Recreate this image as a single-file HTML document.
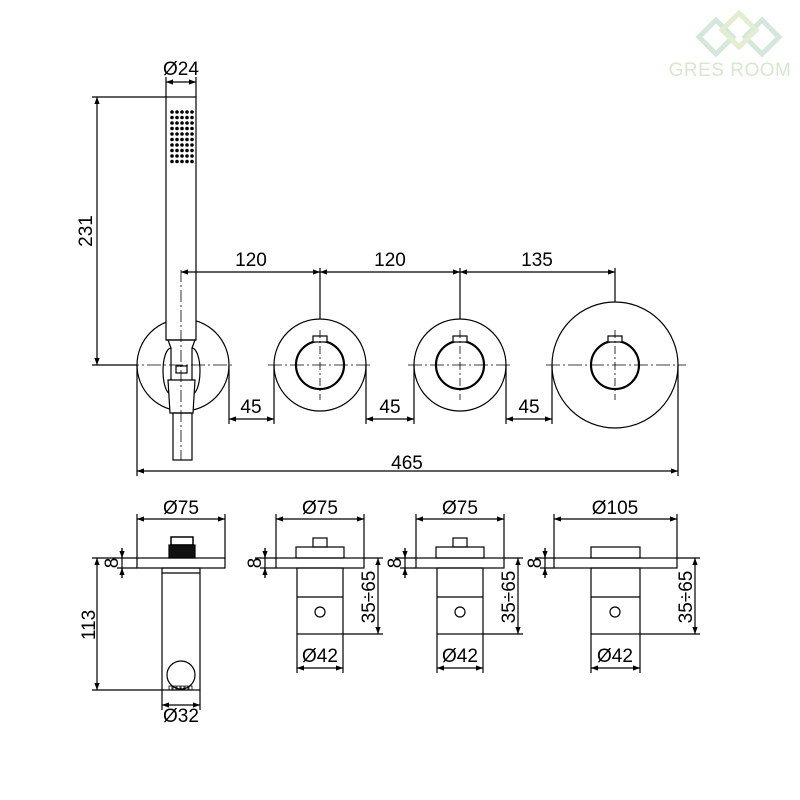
<!DOCTYPE html>
<html><head><meta charset="utf-8"><style>html,body{margin:0;padding:0;background:#fff}svg{display:block}</style></head>
<body>
<svg width="800" height="800" viewBox="0 0 800 800" xmlns="http://www.w3.org/2000/svg" font-family="Liberation Sans, DejaVu Sans, sans-serif" font-size="19" fill="none" stroke="#000">
<defs>
<marker id="a" viewBox="0 0 8 6" refX="8" refY="3" markerWidth="6" markerHeight="4.5" orient="auto-start-reverse"><path d="M0,0L8,3L0,6z" fill="#000" stroke="none"/></marker>
</defs>
<g stroke="#cfe6d6" stroke-width="5" opacity="0.9">
<path d="M716,20 L733,37 L716,54 L699,37 Z"/><path d="M762,20 L779,37 L762,54 L745,37 Z"/><path d="M739,13 L756,30 L739,47 L722,30 Z" stroke="#e0eccc"/>
</g>
<text x="730" y="76" font-size="19" fill="#d6e9cc" stroke="none" text-anchor="middle" letter-spacing="0.5">GRES ROOM</text>

<g stroke-width="1.2">
<path d="M125,365H235M268,365H372M408,365H512M546,365H686" stroke-dasharray="14,3,2,3" stroke-width="0.8"/>
<circle cx="183" cy="365" r="46"/>
<circle cx="320" cy="365" r="46"/>
<circle cx="460" cy="365" r="46"/>
<circle cx="615" cy="365" r="63"/>
<g stroke-width="2.2">
<circle cx="320" cy="365" r="24"/><circle cx="460" cy="365" r="24"/><circle cx="615" cy="365" r="24"/>
</g>
<rect x="313" y="336" width="14" height="6" fill="#fff"/><rect x="453" y="336" width="14" height="6" fill="#fff"/><rect x="608" y="336" width="14" height="6" fill="#fff"/>
<path d="M320,330V400M460,330V400M615,330V400" stroke-dasharray="8,3,2,3" stroke-width="0.8"/>
<!-- hand shower -->
<rect x="166" y="97" width="30" height="243" fill="#fff"/>
<g fill="#000" stroke="none">
<g id="row"><circle cx="172" cy="112" r="1.8"/><circle cx="177" cy="112" r="1.8"/><circle cx="182" cy="112" r="1.8"/><circle cx="187" cy="112" r="1.8"/><circle cx="192" cy="112" r="1.8"/></g>
<use href="#row" y="5.5"/><use href="#row" y="11"/><use href="#row" y="16.5"/><use href="#row" y="22"/><use href="#row" y="27.5"/><use href="#row" y="33"/><use href="#row" y="38.5"/><use href="#row" y="44"/><use href="#row" y="49.5"/>
</g>
<path d="M166,340H196"/>
<path d="M168,340L171,348V392M195,340L192,348V392"/>
<path d="M171,348A8,23 0 0 0 171,394M192,348A8,23 0 0 1 192,394"/>
<path d="M168,380H195L193,413H170Z" fill="#fff"/>
<rect x="176" y="366" width="11" height="7" fill="#fff"/>
<rect x="173" y="413" width="19" height="47"/>
<path d="M181,270V460" stroke-dasharray="12,3,2,3" stroke-width="0.8"/>
<path d="M166,97V77M196,97V77"/><path d="M166,82H196" marker-start="url(#a)" marker-end="url(#a)"/>
<path d="M166,97H92M137,365H92"/><path d="M97,97V365" marker-start="url(#a)" marker-end="url(#a)"/>
<path d="M181,272H320" marker-start="url(#a)" marker-end="url(#a)"/>
<path d="M320,272H460" marker-start="url(#a)" marker-end="url(#a)"/>
<path d="M460,272H615" marker-start="url(#a)" marker-end="url(#a)"/>
<path d="M320,268V319M460,268V319M615,268V302"/>
<path d="M229,365V424M274,365V424M366,365V424M414,365V424M506,365V424M552,365V424"/>
<path d="M229,419H274" marker-start="url(#a)" marker-end="url(#a)"/>
<path d="M366,419H414" marker-start="url(#a)" marker-end="url(#a)"/>
<path d="M506,419H552" marker-start="url(#a)" marker-end="url(#a)"/>
<path d="M137,365V476M678,365V476"/>
<path d="M137,471H678" marker-start="url(#a)" marker-end="url(#a)"/>

<rect x="137" y="558" width="88" height="10"/>
<rect x="162" y="568" width="38" height="122"/>
<path d="M162,573H200"/>
<rect x="171" y="537" width="22" height="8" fill="#fff" stroke-width="1.5"/>
<rect x="169" y="545" width="26" height="13" fill="#111"/>
<circle cx="181" cy="675" r="14"/>
<path d="M169,690v-4h3v4M173,690v-4h3v4M177,690v-4h3v4M181,690v-4h3v4M185,690v-4h3v4M189,690v-4h3v4" stroke-width="0.8"/>
<path d="M137,558V514M225,558V514"/><path d="M137,519H225" marker-start="url(#a)" marker-end="url(#a)"/>
<path d="M137,558H92M137,568H117M162,690H92"/>
<path d="M122,548V558" marker-end="url(#a)"/><path d="M122,578V568" marker-end="url(#a)"/><path d="M122,548V578"/>
<path d="M97,558V690" marker-start="url(#a)" marker-end="url(#a)"/>
<path d="M162,690V710M200,690V710"/><path d="M162,705H200" marker-start="url(#a)" marker-end="url(#a)"/>

<g id="v">
<rect x="276" y="558" width="88" height="10"/>
<rect x="296" y="547" width="48" height="11"/>
<rect x="313" y="538" width="14" height="9"/>
<rect x="297" y="568" width="46" height="66"/>
<path d="M297,597H343"/>
<circle cx="320" cy="612" r="5"/>
<path d="M276,558V514M364,558V514"/><path d="M276,519H364" marker-start="url(#a)" marker-end="url(#a)"/>
<path d="M276,558H255M276,568H260"/>
<path d="M265,548V558" marker-end="url(#a)"/><path d="M265,578V568" marker-end="url(#a)"/><path d="M265,548V578"/>
<path d="M364,558H383M343,634H383"/><path d="M378,558V634" marker-start="url(#a)" marker-end="url(#a)"/>
<path d="M297,634V673M343,634V673"/><path d="M297,668H343" marker-start="url(#a)" marker-end="url(#a)"/>
</g>
<use href="#v" x="140"/>
<rect x="554" y="558" width="123" height="10"/>
<rect x="591" y="547" width="49" height="11"/>
<rect x="591" y="568" width="49" height="66"/>
<path d="M591,597H640"/>
<circle cx="615" cy="612" r="5"/>
<path d="M554,558V514M677,558V514"/><path d="M554,519H677" marker-start="url(#a)" marker-end="url(#a)"/>
<path d="M554,558H535M554,568H540"/>
<path d="M545,548V558" marker-end="url(#a)"/><path d="M545,578V568" marker-end="url(#a)"/><path d="M545,548V578"/>
<path d="M677,558H700M640,634H700"/><path d="M695,558V634" marker-start="url(#a)" marker-end="url(#a)"/>
<path d="M591,634V673M640,634V673"/><path d="M591,668H640" marker-start="url(#a)" marker-end="url(#a)"/>
</g>

<g fill="#000" stroke="none" text-anchor="middle">
<text x="181" y="75">Ø24</text>
<text x="251" y="266">120</text>
<text x="390" y="266">120</text>
<text x="537" y="266">135</text>
<text x="251" y="413">45</text>
<text x="390" y="413">45</text>
<text x="529" y="413">45</text>
<text x="407" y="469">465</text>
<text transform="translate(92,231) rotate(-90)">231</text>
<text x="181" y="514">Ø75</text>
<text x="320" y="514">Ø75</text>
<text x="460" y="514">Ø75</text>
<text x="615" y="514">Ø105</text>
<text x="181" y="722">Ø32</text>
<text x="320" y="662">Ø42</text>
<text x="460" y="662">Ø42</text>
<text x="615" y="662">Ø42</text>
<text transform="translate(95,625) rotate(-90)">113</text>
<text transform="translate(118,563) rotate(-90)">8</text>
<text transform="translate(261,563) rotate(-90)">8</text>
<text transform="translate(401,563) rotate(-90)">8</text>
<text transform="translate(541,563) rotate(-90)">8</text>
<text transform="translate(375,597) rotate(-90)">35÷65</text>
<text transform="translate(515,597) rotate(-90)">35÷65</text>
<text transform="translate(692,597) rotate(-90)">35÷65</text>
</g>
</svg>
</body></html>
